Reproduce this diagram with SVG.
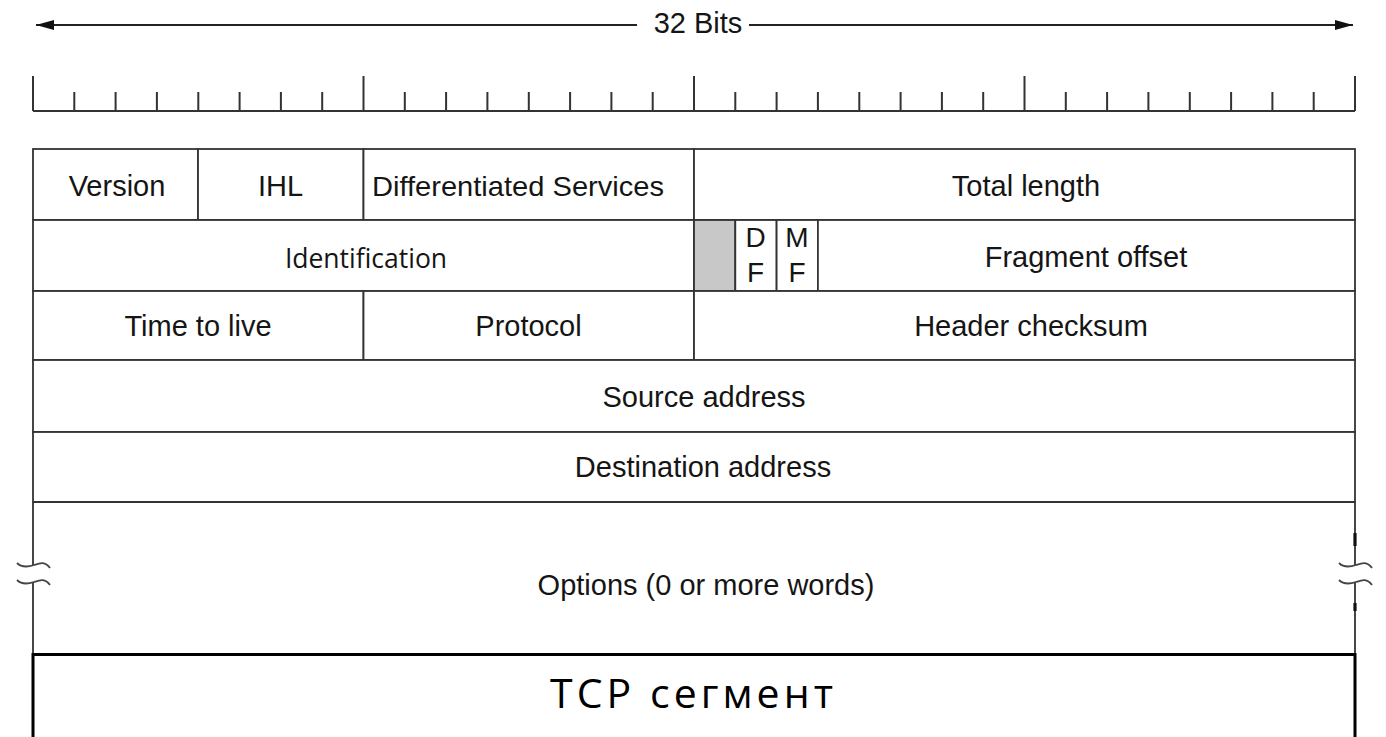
<svg xmlns="http://www.w3.org/2000/svg" width="1386" height="737" viewBox="0 0 1386 737">
<style>
.t{font-family:"Liberation Sans",Arial,sans-serif;font-size:29px;fill:#151515;text-anchor:middle}
.c{fill:#fff;stroke:#333;stroke-width:1.8}
.ln{stroke:#333;stroke-width:1.8;fill:none}
.tick{stroke:#333;stroke-width:2;fill:none}
.sq{stroke:#444;stroke-width:1.8;fill:none}
</style>
<defs>
<marker id="ah" viewBox="0 0 18 10" refX="18" refY="5" markerWidth="18" markerHeight="10" markerUnits="userSpaceOnUse" orient="auto-start-reverse">
<path d="M0,0 L18,5 L0,10 Z" fill="#111"/>
</marker>
</defs>
<rect width="1386" height="737" fill="#fff"/>

<g id="connectors">
<line x1="36" y1="25" x2="637" y2="25" stroke="#222" stroke-width="2" marker-start="url(#ah)"/>
<line x1="749" y1="25" x2="1353" y2="25" stroke="#222" stroke-width="2" marker-end="url(#ah)"/>
</g>
<g id="bits-label"><text class="t" x="698" y="33">32 Bits</text></g>

<g id="ruler">
<line class="tick" x1="33" y1="111" x2="1355" y2="111"/>
<path class="tick" d="M33,76V111M363.5,76V111M694,76V111M1024.5,76V111M1355,76V111"/>
<path class="tick" d="M74.3,92V111M115.6,92V111M156.9,92V111M198.3,92V111M239.6,92V111M280.9,92V111M322.2,92V111M404.8,92V111M446.1,92V111M487.4,92V111M528.8,92V111M570.1,92V111M611.4,92V111M652.7,92V111M735.3,92V111M776.6,92V111M817.9,92V111M859.3,92V111M900.6,92V111M941.9,92V111M983.2,92V111M1065.8,92V111M1107.1,92V111M1148.4,92V111M1189.8,92V111M1231.1,92V111M1272.4,92V111M1313.7,92V111"/>
</g>

<g id="version"><rect class="c" x="33" y="149" width="165" height="71"/><text class="t" x="117" y="196">Version</text></g>
<g id="ihl"><rect class="c" x="198" y="149" width="165.5" height="71"/><text class="t" x="280.5" y="196">IHL</text></g>
<g id="diffserv"><rect class="c" x="363.5" y="149" width="330.5" height="71"/><text class="t" x="518" y="196" textLength="292" lengthAdjust="spacingAndGlyphs" style="font-size:28px">Differentiated Services</text></g>
<g id="total-length"><rect class="c" x="694" y="149" width="661" height="71"/><text class="t" x="1026" y="196">Total length</text></g>

<g id="identification"><rect class="c" x="33" y="220" width="661" height="71"/><text x="366" y="268" style="font-family:'Open Sans','Liberation Sans',sans-serif;font-size:26.5px;fill:#151515;text-anchor:middle">Identification</text></g>
<g id="reserved"><rect x="694" y="220" width="41.3" height="71" fill="#c8c8c8" stroke="#333" stroke-width="1.8"/></g>
<g id="df"><rect class="c" x="735.3" y="220" width="41.3" height="71"/><text class="t" x="755.5" y="247" style="font-size:28px">D</text><text class="t" x="755.5" y="282" style="font-size:28px">F</text></g>
<g id="mf"><rect class="c" x="776.6" y="220" width="41.3" height="71"/><text class="t" x="797" y="247" style="font-size:28px">M</text><text class="t" x="797" y="282" style="font-size:28px">F</text></g>
<g id="fragment-offset"><rect class="c" x="817.9" y="220" width="537.1" height="71"/><text class="t" x="1086" y="267">Fragment offset</text></g>

<g id="ttl"><rect class="c" x="33" y="291" width="330.5" height="69"/><text class="t" x="198" y="336">Time to live</text></g>
<g id="protocol"><rect class="c" x="363.5" y="291" width="330.5" height="69"/><text class="t" x="528.5" y="336">Protocol</text></g>
<g id="header-checksum"><rect class="c" x="694" y="291" width="661" height="69"/><text class="t" x="1031" y="336">Header checksum</text></g>

<g id="source-address"><rect class="c" x="33" y="360" width="1322" height="72"/><text class="t" x="704" y="407">Source address</text></g>
<g id="destination-address"><rect class="c" x="33" y="432" width="1322" height="70"/><text class="t" x="703" y="477">Destination address</text></g>

<g id="options">
<line class="ln" x1="33" y1="502" x2="1355" y2="502"/>
<path class="ln" d="M33,502V565M33,582V654"/>
<path class="ln" d="M1355,502V565M1355,582V654"/>
<path d="M1355,533V546M1355,603V611" stroke="#111" stroke-width="3.2"/>
<path class="sq" d="M17,563 C22,568 28,567 34,565 C40,563 45,561 50,568"/>
<path class="sq" d="M17,580 C22,585 28,584 34,582 C40,580 45,578 50,585"/>
<path class="sq" d="M1339,563 C1344,568 1350,567 1356,565 C1362,563 1367,561 1372,568"/>
<path class="sq" d="M1339,580 C1344,585 1350,584 1356,582 C1362,580 1367,578 1372,585"/>
<text class="t" x="706" y="595">Options (0 or more words)</text>
</g>

<g id="tcp-segment">
<path d="M33,740V654.5H1355V740" fill="none" stroke="#000" stroke-width="3"/>
<text x="691.5" y="708" textLength="283" lengthAdjust="spacing" style="font-family:'Open Sans','Liberation Sans',sans-serif;font-size:41px;fill:#000;text-anchor:middle">TCP сегмент</text>
</g>
</svg>
